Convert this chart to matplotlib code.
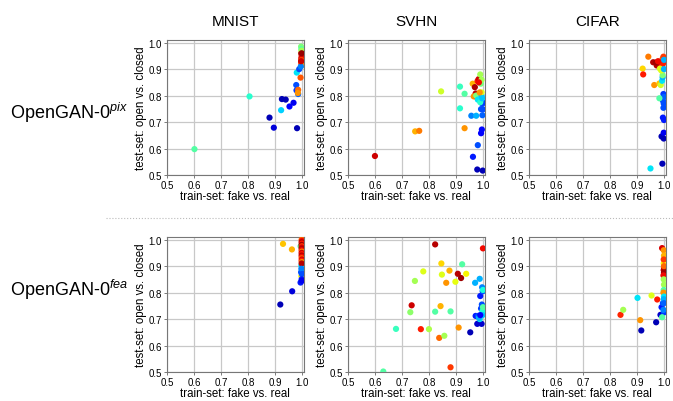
import matplotlib
matplotlib.use("Agg")
import matplotlib.pyplot as plt
from matplotlib.lines import Line2D

plt.rcParams['font.family'] = ['Liberation Sans', 'DejaVu Sans']
plt.rcParams['mathtext.fontset'] = 'custom'
plt.rcParams['mathtext.rm'] = 'Liberation Sans'
plt.rcParams['mathtext.it'] = 'Liberation Sans:italic'

datasets = ["MNIST", "SVHN", "CIFAR"]
rows = [r"OpenGAN-0$^{\mathit{pix}}$", r"OpenGAN-0$^{\mathit{fea}}$"]
ticks = [0.5, 0.6, 0.7, 0.8, 0.9, 1.0]

# --- OpenGAN-0 pix ---
mnist_pix_train = [0.602, 0.806, 0.923, 0.880, 0.896, 0.926, 0.940, 0.954, 0.969, 0.982,
                   0.979, 0.980, 0.986, 0.986, 0.985, 0.981, 0.990, 0.995, 0.997, 0.998,
                   0.999, 0.998, 0.999, 1.000, 0.999, 0.998, 0.999, 0.997, 0.999, 0.998,
                   1.000, 0.999, 0.996, 0.997, 0.999]
mnist_pix_test = [0.598, 0.797, 0.745, 0.717, 0.679, 0.787, 0.785, 0.759, 0.773, 0.677,
                  0.840, 0.820, 0.806, 0.822, 0.810, 0.887, 0.900, 0.868, 0.985, 0.975,
                  0.965, 0.960, 0.955, 0.950, 0.945, 0.940, 0.935, 0.930, 0.925, 0.920,
                  0.915, 0.970, 0.910, 0.930, 0.960]
mnist_pix_epoch = [0.45, 0.40, 0.33, 0.05, 0.08, 0.05, 0.05, 0.12, 0.10, 0.05,
                   0.20, 0.18, 0.22, 0.80, 0.75, 0.35, 0.20, 0.82, 0.50, 0.45,
                   0.62, 0.95, 0.90, 0.97, 0.88, 0.92, 0.85, 0.80, 0.90, 0.85,
                   0.75, 0.55, 0.25, 0.93, 0.98]

svhn_pix_train = [0.600, 0.749, 0.764, 0.845, 0.915, 0.915, 0.932, 0.932, 0.957, 0.975,
                  0.963, 0.981, 0.979, 0.999, 0.993, 0.996, 0.998, 0.993, 1.000, 0.998,
                  1.000, 0.962, 0.980, 0.984, 0.970, 0.973, 0.966, 0.976, 0.975, 0.990,
                  0.990, 0.981, 0.995, 0.995, 0.988, 0.992, 0.995, 0.985, 0.990, 0.997]
svhn_pix_test = [0.572, 0.665, 0.667, 0.816, 0.834, 0.752, 0.807, 0.677, 0.724, 0.724,
                 0.569, 0.613, 0.521, 0.517, 0.658, 0.672, 0.726, 0.749, 0.748, 0.769,
                 0.774, 0.845, 0.855, 0.862, 0.832, 0.808, 0.797, 0.795, 0.800, 0.880,
                 0.780, 0.785, 0.800, 0.812, 0.812, 0.845, 0.860, 0.850, 0.775, 0.790]
svhn_pix_epoch = [0.93, 0.72, 0.78, 0.60, 0.42, 0.40, 0.45, 0.75, 0.25, 0.30,
                  0.15, 0.20, 0.05, 0.05, 0.12, 0.13, 0.22, 0.20, 0.20, 0.20,
                  0.18, 0.72, 0.88, 0.93, 0.96, 0.95, 0.75, 0.80, 0.50, 0.55,
                  0.45, 0.35, 0.30, 0.62, 0.75, 0.50, 0.55, 0.90, 0.40, 0.32]

cifar_pix_train = [0.950, 0.994, 0.991, 0.999, 0.999, 0.996, 1.000, 0.998, 0.996, 0.998,
                   1.000, 0.983, 0.921, 0.923, 0.942, 0.964, 0.960, 0.973, 0.985, 0.983,
                   0.988, 0.993, 0.995, 0.995, 0.990, 0.995, 0.998, 0.994, 0.985, 0.999,
                   1.000, 1.000, 0.970, 0.978, 0.999]
cifar_pix_test = [0.525, 0.543, 0.646, 0.638, 0.660, 0.717, 0.708, 0.754, 0.781, 0.806,
                  0.795, 0.790, 0.902, 0.880, 0.947, 0.840, 0.926, 0.914, 0.923, 0.846,
                  0.840, 0.856, 0.869, 0.877, 0.895, 0.939, 0.947, 0.914, 0.902, 0.925,
                  0.900, 0.935, 0.925, 0.930, 0.770]
cifar_pix_epoch = [0.35, 0.05, 0.05, 0.05, 0.10, 0.15, 0.15, 0.20, 0.20, 0.18,
                   0.22, 0.45, 0.68, 0.88, 0.78, 0.75, 0.95, 0.95, 0.93, 0.70,
                   0.60, 0.35, 0.30, 0.50, 0.62, 0.80, 0.85, 0.88, 0.62, 0.88,
                   0.30, 0.30, 0.97, 0.90, 0.20]

# --- OpenGAN-0 fea ---
mnist_fea_train = [0.920, 0.964, 0.930, 0.963, 0.995, 0.998, 0.997, 0.998, 0.995, 0.999,
                   1.000, 0.999, 1.000, 0.999, 1.000, 0.999, 1.000, 0.999, 1.000, 0.999,
                   1.000, 0.999, 1.000, 0.999, 1.000, 0.999, 1.000, 0.999, 0.998, 1.000,
                   0.999, 1.000]
mnist_fea_test = [0.755, 0.805, 0.984, 0.963, 0.838, 0.862, 0.877, 0.902, 0.975, 1.000,
                  0.995, 0.990, 0.985, 0.980, 0.975, 0.970, 0.965, 0.960, 0.955, 0.950,
                  0.945, 0.940, 0.935, 0.930, 0.925, 0.920, 0.915, 0.910, 0.890, 0.870,
                  0.850, 0.845]
mnist_fea_epoch = [0.05, 0.08, 0.70, 0.72, 0.15, 0.65, 0.20, 0.35, 0.45, 0.80,
                   0.90, 0.95, 0.88, 0.97, 0.85, 0.92, 0.95, 0.90, 0.78, 0.93,
                   0.88, 0.95, 0.90, 0.82, 0.92, 0.88, 0.75, 0.95, 0.25, 0.20,
                   0.15, 0.10]

svhn_fea_train = [0.631, 0.678, 0.736, 0.731, 0.748, 0.779, 0.770, 0.800, 0.823, 0.823,
                  0.843, 0.838, 0.846, 0.848, 0.857, 0.864, 0.876, 0.880, 0.880, 0.898,
                  0.907, 0.910, 0.919, 0.923, 0.938, 0.953, 0.971, 0.988, 1.000, 0.973,
                  0.979, 0.995, 0.982, 0.990, 0.993, 0.996, 0.997, 0.999, 0.988, 0.998,
                  1.000, 1.000, 0.985, 0.998, 0.990]
svhn_fea_test = [0.502, 0.663, 0.752, 0.726, 0.844, 0.880, 0.662, 0.662, 0.728, 0.982,
                 0.749, 0.629, 0.910, 0.868, 0.637, 0.837, 0.883, 0.729, 0.518, 0.841,
                 0.871, 0.668, 0.855, 0.907, 0.871, 0.650, 0.837, 0.852, 0.967, 0.712,
                 0.682, 0.682, 0.712, 0.787, 0.740, 0.755, 0.820, 0.805, 0.700, 0.730,
                 0.745, 0.810, 0.705, 0.715, 0.715]
svhn_fea_epoch = [0.45, 0.42, 0.93, 0.52, 0.55, 0.62, 0.88, 0.56, 0.45, 0.95,
                  0.72, 0.80, 0.68, 0.62, 0.55, 0.75, 0.72, 0.45, 0.85, 0.63,
                  0.95, 0.75, 0.97, 0.45, 0.65, 0.05, 0.30, 0.30, 0.90, 0.15,
                  0.07, 0.07, 0.20, 0.15, 0.18, 0.20, 0.25, 0.20, 0.35, 0.38,
                  0.45, 0.38, 0.30, 0.32, 0.12]

cifar_fea_train = [0.839, 0.849, 0.912, 0.902, 0.916, 0.954, 0.975, 0.971, 0.987, 0.991,
                   0.996, 1.000, 0.993, 0.993, 0.999, 1.000, 0.999, 1.000, 0.999, 1.000,
                   0.998, 0.999, 1.000, 0.999, 0.998, 1.000, 0.999, 0.998, 1.000, 0.999,
                   1.000]
cifar_fea_test = [0.716, 0.735, 0.696, 0.780, 0.657, 0.789, 0.774, 0.688, 0.716, 0.745,
                  0.760, 0.725, 0.707, 0.968, 0.960, 0.940, 0.910, 0.895, 0.885, 0.875,
                  0.865, 0.850, 0.830, 0.810, 0.800, 0.785, 0.775, 0.735, 0.900, 0.925,
                  0.760]
cifar_fea_epoch = [0.87, 0.55, 0.75, 0.35, 0.05, 0.62, 0.88, 0.05, 0.07, 0.15,
                   0.20, 0.18, 0.45, 0.92, 0.75, 0.72, 0.65, 0.88, 0.95, 0.97,
                   0.90, 0.55, 0.55, 0.45, 0.75, 0.35, 0.30, 0.25, 0.80, 0.85,
                   0.22]

panels = [
    [(mnist_pix_train, mnist_pix_test, mnist_pix_epoch),
     (svhn_pix_train, svhn_pix_test, svhn_pix_epoch),
     (cifar_pix_train, cifar_pix_test, cifar_pix_epoch)],
    [(mnist_fea_train, mnist_fea_test, mnist_fea_epoch),
     (svhn_fea_train, svhn_fea_test, svhn_fea_epoch),
     (cifar_fea_train, cifar_fea_test, cifar_fea_epoch)],
]

fig = plt.figure(figsize=(6.73, 4.02), dpi=100)
lefts = [0.248, 0.517, 0.786]
bottoms = [0.562, 0.072]
w, h = 0.203, 0.336

for r in range(2):
    for c in range(3):
        ax = fig.add_axes([lefts[c], bottoms[r], w, h])
        tx, te, ep = panels[r][c]
        ax.scatter(tx, te, c=ep, cmap='jet', vmin=0, vmax=1, s=20,
                   linewidths=0, zorder=3)
        ax.set_xlim(0.5, 1.006)
        ax.set_ylim(0.5, 1.01)
        ax.set_xticks(ticks)
        ax.set_yticks(ticks)
        ax.set_xticklabels([f"{t:.1f}" for t in ticks])
        ax.set_yticklabels([f"{t:.1f}" for t in ticks])
        ax.grid(True, color='#c8c8c8', linewidth=0.9, zorder=0)
        ax.tick_params(labelsize=7, length=2.5, width=0.6, pad=1,
                       color='#666666')
        for s in ax.spines.values():
            s.set_color('#777777')
            s.set_linewidth(0.8)
        ax.set_xlabel("train-set: fake vs. real", fontsize=8.3, labelpad=0)
        ax.set_ylabel("test-set: open vs. closed", fontsize=8.3, labelpad=1)
        if r == 0:
            ax.set_title(datasets[c], fontsize=11, pad=11)

for r in range(2):
    fig.text(0.015, [0.72, 0.278][r], rows[r], fontsize=13,
             ha='left', va='center')

fig.add_artist(Line2D([0.158, 1.0], [0.455, 0.455], color='#bbbbbb',
                      linewidth=0.8, linestyle=':'))

fig.savefig("out.png", dpi=100)
